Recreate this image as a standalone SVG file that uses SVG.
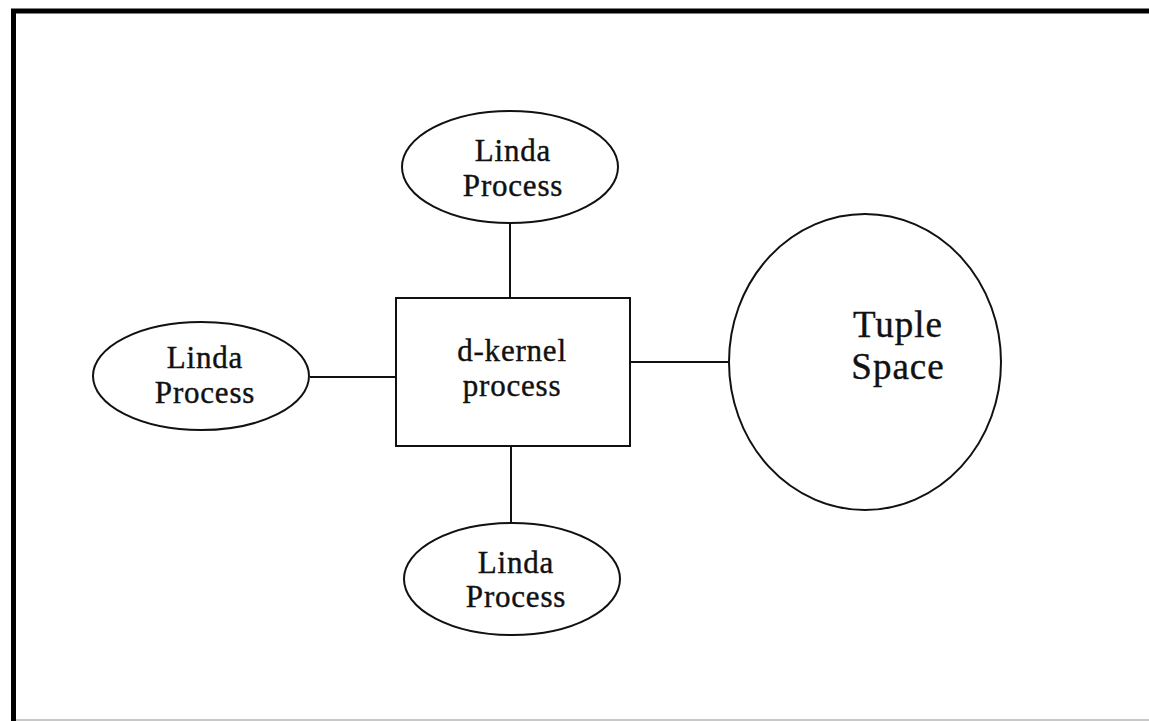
<svg xmlns="http://www.w3.org/2000/svg" width="1149" height="721" viewBox="0 0 1149 721">
  <style>
    .shape { fill: #ffffff; stroke: #111111; stroke-width: 2; }
    .link { stroke: #111111; stroke-width: 2; fill: none; }
    .label { font-family: "Liberation Serif", "Times New Roman", serif; font-size: 31px; letter-spacing: 0.8px; fill: #111111; stroke: #111111; stroke-width: 0.4; text-anchor: middle; }
    .big { font-size: 37px; letter-spacing: 1px; }
  </style>
  <rect width="1149" height="721" fill="#ffffff"/>

  <!-- page frame -->
  <g id="frame">
    <path d="M 13.5 721 V 11 H 1149" fill="none" stroke="#000000" stroke-width="5"/>
    <line x1="16" y1="720" x2="1149" y2="720" stroke="#c8c8c8" stroke-width="2"/>
  </g>

  <!-- connectors -->
  <g id="connectors">
    <line class="link" x1="510" y1="224" x2="510" y2="298"/>
    <line class="link" x1="511" y1="446" x2="511" y2="523"/>
    <line class="link" x1="310" y1="377" x2="396" y2="377"/>
    <line class="link" x1="630" y1="362" x2="729" y2="362"/>
  </g>

  <g id="kernel">
    <rect class="shape" x="396" y="298" width="234" height="148"/>
    <text class="label" x="512" y="361">d-kernel</text>
    <text class="label" x="512" y="396">process</text>
  </g>

  <g id="linda-top">
    <ellipse class="shape" cx="510" cy="167" rx="108" ry="56"/>
    <text class="label" x="513" y="161">Linda</text>
    <text class="label" x="513" y="196">Process</text>
  </g>

  <g id="linda-left">
    <ellipse class="shape" cx="201" cy="376" rx="108" ry="54"/>
    <text class="label" x="205" y="368">Linda</text>
    <text class="label" x="205" y="403">Process</text>
  </g>

  <g id="linda-bottom">
    <ellipse class="shape" cx="512" cy="579" rx="108" ry="56"/>
    <text class="label" x="516" y="573">Linda</text>
    <text class="label" x="516" y="607">Process</text>
  </g>

  <g id="tuple-space">
    <ellipse class="shape" cx="865" cy="362" rx="136" ry="148"/>
    <text class="label big" x="898" y="337">Tuple</text>
    <text class="label big" x="898" y="379">Space</text>
  </g>
</svg>
